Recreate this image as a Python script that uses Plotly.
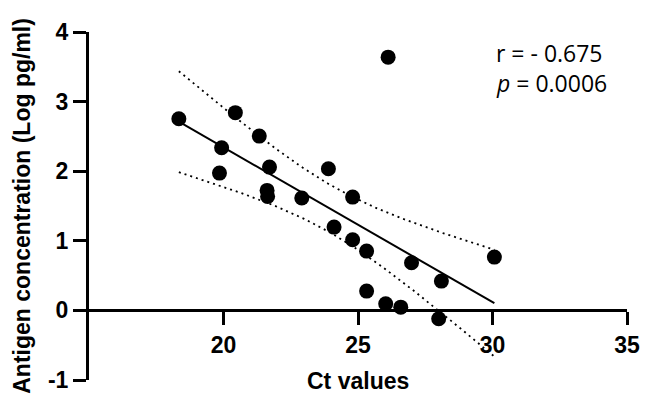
import numpy as np
import plotly.graph_objects as go

# Data
ct_values = [18.34, 19.93, 19.85, 20.44, 21.33, 21.71, 21.62, 21.64, 22.91, 23.90, 24.11,
             24.80, 24.80, 25.32, 25.32, 26.03, 26.12, 26.59, 26.99, 28.10, 28.00, 30.07]
antigen_log = [2.754, 2.338, 1.973, 2.841, 2.504, 2.059, 1.724, 1.638, 1.614, 2.036, 1.197,
               1.628, 1.016, 0.852, 0.277, 0.096, 3.639, 0.047, 0.685, 0.421, -0.119, 0.766]
x_ticks = [20, 25, 30, 35]
x_ticktext = ["<b>20</b>", "<b>25</b>", "<b>30</b>", "<b>35</b>"]
y_ticks = [-1, 0, 1, 2, 3, 4]
y_ticktext = ["<b>-1</b>", "<b>0</b>", "<b>1</b>", "<b>2</b>", "<b>3</b>", "<b>4</b>"]
stat_lines = ["r = - 0.675", "<i>p</i> = 0.0006"]

# Linear regression with 95% confidence band
x = np.array(ct_values)
y = np.array(antigen_log)
n = len(x)
slope, intercept = np.polyfit(x, y, 1)
xs = np.linspace(x.min(), x.max(), 200)
fit = slope * xs + intercept
resid = y - (slope * x + intercept)
s = np.sqrt(np.sum(resid ** 2) / (n - 2))
sxx = np.sum((x - x.mean()) ** 2)
t_val = 2.086  # t(0.975, df=20)
half = t_val * s * np.sqrt(1.0 / n + (xs - x.mean()) ** 2 / sxx)

bold = dict(family="Liberation Sans", size=23, color="black")
stat_font = dict(family="Open Sans", size=23, color="black")

fig = go.Figure()
fig.add_trace(go.Scatter(x=xs, y=fit + half, mode="lines",
                         line=dict(color="black", width=1.8, dash="2px,4px"), hoverinfo="skip"))
fig.add_trace(go.Scatter(x=xs, y=fit - half, mode="lines",
                         line=dict(color="black", width=1.8, dash="2px,4px"), hoverinfo="skip"))
fig.add_trace(go.Scatter(x=xs, y=fit, mode="lines",
                         line=dict(color="black", width=2), hoverinfo="skip"))
fig.add_trace(go.Scatter(x=ct_values, y=antigen_log, mode="markers",
                         marker=dict(color="black", size=15), cliponaxis=False))

fig.update_layout(
    width=646, height=394,
    margin=dict(l=89, r=19, t=32, b=14),
    paper_bgcolor="white", plot_bgcolor="white",
    showlegend=False,
    xaxis=dict(range=[15, 35], tickvals=x_ticks, ticktext=x_ticktext, ticks="outside",
               ticklen=13, tickwidth=3, automargin=False,
               tickcolor="black", showline=True, linecolor="black", linewidth=3,
               showgrid=False, zeroline=False, anchor="free", position=0.2,
               tickfont=bold),
    yaxis=dict(range=[-1, 4], tickvals=y_ticks, ticktext=y_ticktext, ticks="outside",
               ticklen=13, tickwidth=3, tickcolor="black", showline=True, linecolor="black",
               linewidth=3, showgrid=False, zeroline=False, tickfont=bold, automargin=False),
    annotations=[
        dict(text="<b>Antigen concentration (Log pg/ml)</b>", textangle=-90, xref="paper",
             yref="paper", x=-0.125, y=0.5, xanchor="center", yanchor="middle",
             showarrow=False, font=bold),
        dict(text="<b>Ct values</b>", xref="paper", yref="paper", x=0.5, y=-0.002,
             xanchor="center", yanchor="middle", showarrow=False, font=bold),
        dict(text=stat_lines[0], xref="paper", yref="paper", x=0.752, y=0.94,
             xanchor="left", yanchor="middle", showarrow=False, font=stat_font),
        dict(text=stat_lines[1], xref="paper", yref="paper", x=0.752, y=0.853,
             xanchor="left", yanchor="middle", showarrow=False, font=stat_font),
    ],
)

fig.write_html("out.html", config={"displayModeBar": False},
               post_script="document.body.style.margin='0px';")
